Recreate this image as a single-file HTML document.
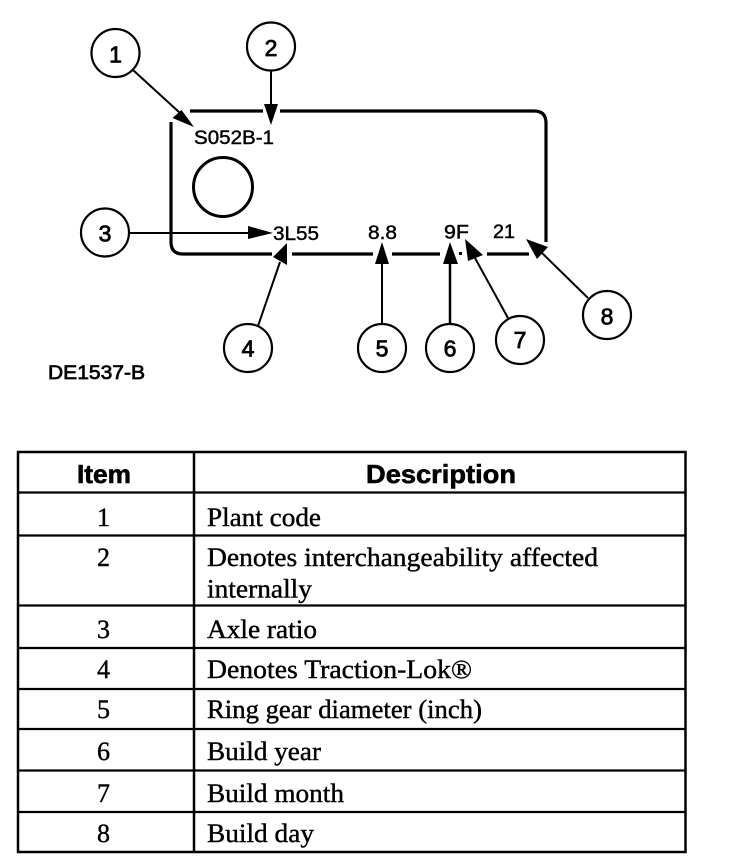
<!DOCTYPE html>
<html>
<head>
<meta charset="utf-8">
<style>
html,body{margin:0;padding:0;background:#fff;width:736px;height:868px;overflow:hidden}
svg{display:block}
.sans{font-family:"Liberation Sans",sans-serif;fill:#000}
.serif{font-family:"Liberation Serif",serif;fill:#000;font-size:26px;stroke:#000;stroke-width:.4}
.num{font-size:23px;text-anchor:middle;stroke:#000;stroke-width:.8}
.lab{font-size:19px;stroke:#000;stroke-width:.45}
.hd{font-size:26px;font-weight:bold}
.it{text-anchor:middle}
</style>
</head>
<body>
<svg width="736" height="868" viewBox="0 0 736 868" xmlns="http://www.w3.org/2000/svg">
<rect width="736" height="868" fill="#fff"/>

<!-- plate outline -->
<g fill="none" stroke="#000" stroke-width="3.2">
<path d="M190 111H263M280 111H534Q546 111 546 123V242"/>
<path d="M171 122V242Q171 254 183 254H272M292 254H373M392 254H440M487 254H529"/>
</g>
<rect x="459" y="252" width="3" height="3" fill="#000"/>
<circle cx="223" cy="187" r="29.5" fill="none" stroke="#000" stroke-width="3"/>

<!-- callout circles -->
<g fill="#fff" stroke="#000" stroke-width="2.2">
<circle cx="115.500" cy="53" r="24"/>
<circle cx="271" cy="46.500" r="24"/>
<circle cx="105" cy="232.500" r="24"/>
<circle cx="248" cy="348" r="24"/>
<circle cx="382" cy="348" r="24"/>
<circle cx="450" cy="348" r="24"/>
<circle cx="520" cy="340" r="24"/>
<circle cx="607" cy="315" r="24"/>
</g>

<!-- leaders -->
<g stroke="#000" stroke-width="2" fill="none">
<path d="M133 70L180 113"/>
<path d="M271 70V106"/>
<path d="M129 233H250"/>
<path d="M258 326L280 262"/>
<path d="M382 325V262"/>
<path d="M450 325V262" stroke-width="2.500"/>
<path d="M508 318L475 258"/>
<path d="M588 298L542 253"/>
</g>
<!-- arrowheads -->
<g fill="#000">
<polygon points="194,127 172.500,118 181.500,110"/>
<polygon points="271,125 264,104 278,104"/>
<polygon points="273,233 248,226 248,239"/>
<polygon points="287,243 273,257 287,265"/>
<polygon points="382,242 375,264 389,264"/>
<polygon points="450,242 443,264 458,264"/>
<polygon points="465,239 468,261 483,255"/>
<polygon points="526,239 537,259 548,247"/>
</g>

<!-- callout numbers -->
<g class="sans num">
<text x="115.500" y="62.500">1</text>
<text x="271" y="56">2</text>
<text x="105" y="241.500">3</text>
<text x="248" y="356.500">4</text>
<text x="382" y="356.500">5</text>
<text x="450" y="356.500">6</text>
<text x="520" y="348">7</text>
<text x="607" y="324.500">8</text>
</g>

<!-- plate labels -->
<g class="sans lab">
<text x="194" y="144" textLength="80" lengthAdjust="spacingAndGlyphs">S052B-1</text>
<text x="273" y="240" textLength="46" lengthAdjust="spacingAndGlyphs">3L55</text>
<text x="368" y="239" textLength="29" lengthAdjust="spacingAndGlyphs">8.8</text>
<text x="444" y="238.500" textLength="25" lengthAdjust="spacingAndGlyphs">9F</text>
<text x="493" y="238" textLength="22" lengthAdjust="spacingAndGlyphs">21</text>
<text x="48" y="379" textLength="97" lengthAdjust="spacingAndGlyphs" style="stroke-width:.7">DE1537-B</text>
</g>

<!-- table -->
<g stroke="#000" fill="none">
<rect x="18" y="452" width="667.500" height="400" stroke-width="2.500"/>
<path d="M194 452V852" stroke-width="2.500"/>
<path d="M18 492.500H685M18 535.500H685M18 605.500H685M18 648H685M18 689H685M18 729H685M18 770.500H685M18 812H685" stroke-width="2.200"/>
</g>

<g class="sans hd" style="stroke:#000;stroke-width:.6">
<text x="77" y="483" textLength="54" lengthAdjust="spacingAndGlyphs">Item</text>
<text x="366" y="483" textLength="150" lengthAdjust="spacingAndGlyphs">Description</text>
</g>

<g class="serif it">
<text x="103.500" y="526">1</text>
<text x="103.500" y="566">2</text>
<text x="103.500" y="638">3</text>
<text x="103.500" y="678">4</text>
<text x="103.500" y="718">5</text>
<text x="103.500" y="760">6</text>
<text x="103.500" y="802">7</text>
<text x="103.500" y="842">8</text>
</g>
<g class="serif">
<text x="207" y="526" textLength="114" lengthAdjust="spacingAndGlyphs">Plant code</text>
<text x="207" y="566" textLength="391" lengthAdjust="spacingAndGlyphs">Denotes interchangeability affected</text>
<text x="207" y="597.500" textLength="105" lengthAdjust="spacingAndGlyphs">internally</text>
<text x="207" y="638" textLength="110" lengthAdjust="spacingAndGlyphs">Axle ratio</text>
<text x="207" y="678" textLength="265" lengthAdjust="spacingAndGlyphs">Denotes Traction-Lok®</text>
<text x="207" y="718" textLength="275" lengthAdjust="spacingAndGlyphs">Ring gear diameter (inch)</text>
<text x="207" y="760" textLength="114" lengthAdjust="spacingAndGlyphs">Build year</text>
<text x="207" y="802" textLength="137" lengthAdjust="spacingAndGlyphs">Build month</text>
<text x="207" y="842" textLength="107" lengthAdjust="spacingAndGlyphs">Build day</text>
</g>
</svg>
</body>
</html>
